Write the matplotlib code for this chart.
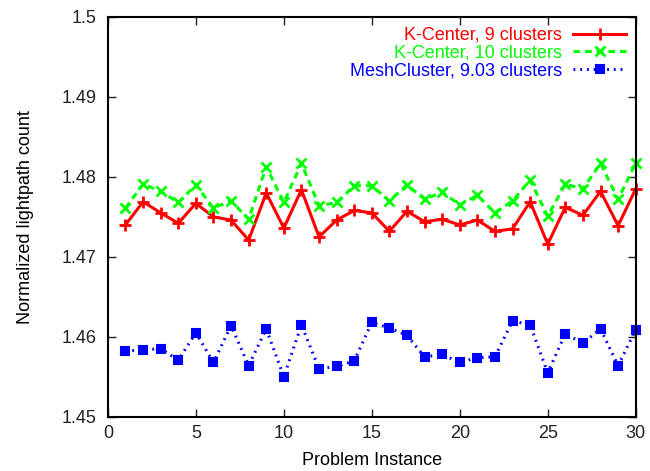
import matplotlib.pyplot as plt

plt.rcParams['font.family'] = ['Liberation Sans', 'DejaVu Sans']

# instancias do problema
instances = list(range(1, 31))

kcenter_9 = [1.4740, 1.4769, 1.4755, 1.4742, 1.4767, 1.4750, 1.4746, 1.4721, 1.4780, 1.4736,
             1.4784, 1.4725, 1.4746, 1.4758, 1.4755, 1.4732, 1.4757, 1.4744, 1.4747, 1.4740,
             1.4746, 1.4732, 1.4735, 1.4769, 1.4716, 1.4762, 1.4752, 1.4782, 1.4739, 1.4785]

kcenter_10 = [1.4761, 1.4791, 1.4782, 1.4768, 1.4790, 1.4761, 1.4770, 1.4747, 1.4813, 1.4768,
              1.4817, 1.4764, 1.4768, 1.4789, 1.4789, 1.4770, 1.4790, 1.4772, 1.4781, 1.4765,
              1.4777, 1.4755, 1.4770, 1.4796, 1.4751, 1.4791, 1.4785, 1.4817, 1.4772, 1.4817]

meshcluster = [1.4582, 1.4584, 1.4585, 1.4571, 1.4605, 1.4568, 1.4614, 1.4564, 1.4610, 1.4550,
               1.4615, 1.4560, 1.4563, 1.4570, 1.4618, 1.4611, 1.4602, 1.4575, 1.4578, 1.4568,
               1.4574, 1.4575, 1.4620, 1.4615, 1.4555, 1.4604, 1.4592, 1.4610, 1.4564, 1.4609]

fig = plt.figure(figsize=(6.5, 4.71), dpi=100)
ax = fig.add_axes([0.166, 0.115, 0.812, 0.849])

ax.plot(instances, kcenter_9, color='#ff0000', lw=2.2, marker='+', ms=8, mew=2,
        label='K-Center, 9 clusters', clip_on=False)
ax.plot(instances, kcenter_10, color='#00ff00', lw=2.2, ls=(0, (2.2, 1.6)), marker='x', ms=7, mew=2,
        label='K-Center, 10 clusters', clip_on=False)
ax.plot(instances, meshcluster, color='#0000ff', lw=2.2, ls=(0, (0.6, 1.6)), marker='s', ms=5.5, mew=1.5,
        label='MeshCluster, 9.03 clusters', clip_on=False)

ax.set_xlim(0, 30)
ax.set_ylim(1.45, 1.5)
ax.set_xticks([0, 5, 10, 15, 20, 25, 30])
ax.set_yticks([1.45, 1.46, 1.47, 1.48, 1.49, 1.5])
ax.set_yticklabels(['1.45', '1.46', '1.47', '1.48', '1.49', '1.5'])
ax.tick_params(direction='in', top=True, right=True, length=6, width=1, labelsize=13, colors='#222222')
ax.tick_params(axis='x', pad=6)
ax.tick_params(axis='y', pad=8)
for s in ax.spines.values():
    s.set_linewidth(1.5)

ax.set_xlabel('Problem Instance', fontsize=13, labelpad=7)
ax.set_ylabel('Normalized lightpath count', fontsize=13, labelpad=20)

leg = ax.legend(loc='upper right', frameon=False, markerfirst=False, fontsize=13,
                labelcolor='linecolor', handlelength=2.9, handletextpad=0.65,
                borderaxespad=0.15, labelspacing=0.05)

plt.savefig('out.png', dpi=100)
